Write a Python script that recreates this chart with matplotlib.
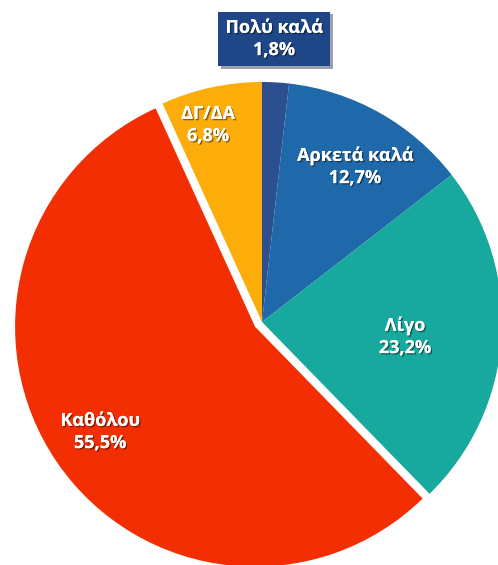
import matplotlib.pyplot as plt
import matplotlib.patheffects as pe

# Δεδομένα
labels = ["Πολύ καλά", "Αρκετά καλά", "Λίγο", "Καθόλου", "ΔΓ/ΔΑ"]
values = [1.8, 12.7, 23.2, 55.5, 6.8]
pct_text = ["1,8%", "12,7%", "23,2%", "55,5%", "6,8%"]
colors = ["#2C4F8F", "#1F68A9", "#17A89E", "#F42E03", "#FCAD0A"]
explode = [0, 0, 0, 0.035, 0]

W, H = 498, 565
cx, cy, r = 262, 322, 240  # Pixel

fig = plt.figure(figsize=(W / 100, H / 100), dpi=100)
ax = fig.add_axes([0, 0, 1, 1])
ax.pie(values, colors=colors, startangle=90, counterclock=False,
       explode=explode, radius=1, center=(0, 0),
       wedgeprops=dict(linewidth=0))
ax.set_xlim(-cx / r, (W - cx) / r)
ax.set_ylim(-(H - cy) / r, cy / r)
ax.set_aspect("equal")
ax.axis("off")

shadow = [pe.withSimplePatchShadow(offset=(1, -1), shadow_rgbFace="black", alpha=0.45), pe.Normal()]

# Positionen der Beschriftungen (Pixel)
label_pos = [(274, 39), (355, 167), (405, 337), (100, 432), (208, 125)]

for i, (lab, pct) in enumerate(zip(labels, pct_text)):
    x, y = label_pos[i]
    kw = dict(transform=ax.transAxes, ha="center", va="center", color="white",
              fontsize=13, fontweight="bold", family=["Open Sans", "DejaVu Sans"],
              linespacing=1.3)
    if i == 0:
        t = ax.text(x / W, 1 - y / H, lab + "\n" + pct,
                    bbox=dict(boxstyle="square,pad=0.4", facecolor="#1F4788", edgecolor="none"),
                    **kw)
        t.get_bbox_patch().set_path_effects([pe.withSimplePatchShadow(offset=(2, -2), alpha=0.4), pe.Normal()])
    else:
        t = ax.text(x / W, 1 - y / H, lab + "\n" + pct, **kw)
    t.set_path_effects(shadow)

fig.savefig("out.png", dpi=100)
